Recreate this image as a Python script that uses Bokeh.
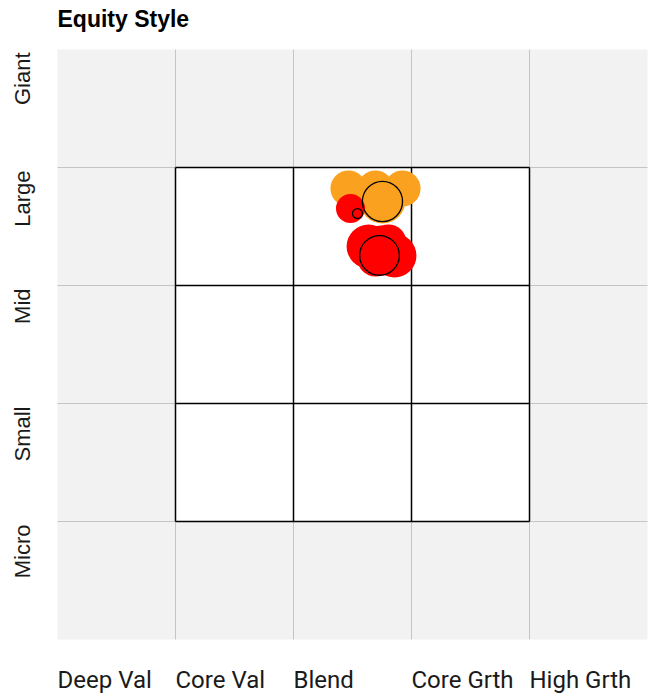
import numpy as np
from bokeh.plotting import figure
from bokeh.models import Range1d
from bokeh.core.properties import value
from bokeh.embed import file_html
from bokeh.resources import INLINE

# ---- data ----
style_labels = ["Deep Val", "Core Val", "Blend", "Core Grth", "High Grth"]
size_labels = ["Giant", "Large", "Mid", "Small", "Micro"]  # top to bottom
title_text = "Equity Style"

# ownership-zone blobs (style score, size score, radius) in grid units
orange_x = [2.466, 2.924, 2.695, 2.754]
orange_y = [3.822, 3.822, 3.822, 3.720]
orange_r = [0.153, 0.153, 0.153, 0.195]

red_small_x = [2.483]
red_small_y = [3.653]
red_small_r = [0.123]

red_x = [2.636, 2.856, 2.746, 2.695, 2.805]
red_y = [3.331, 3.254, 3.297, 3.229, 3.364]
red_r = [0.186, 0.186, 0.212, 0.153, 0.153]

# centroids (outlined circles)
cent_x = [2.754, 2.542, 2.729]
cent_y = [3.712, 3.610, 3.255]
cent_r = [0.170, 0.042, 0.168]

n = len(style_labels)
U = 118.0  # pixels per grid cell
W, H = 649, 696
L0, B0 = 57, 639  # pixel position of grid origin

p = figure(width=W, height=H, output_backend="svg", toolbar_location=None,
           x_range=Range1d(-L0 / U, (W - L0) / U), y_range=Range1d((B0 - H) / U, B0 / U),
           x_axis_type=None, y_axis_type=None,
           min_border=0)
p.background_fill_color = "white"
p.border_fill_color = "white"
p.outline_line_color = None
p.xgrid.visible = False
p.ygrid.visible = False

# grey outer area
p.quad(left=[0], right=[n], bottom=[0], top=[n], fill_color="#f2f2f2", line_color=None)
idx = np.arange(1, n)
p.segment(x0=idx, y0=0, x1=idx, y1=n, line_color="#c4c4c4", line_width=1)
p.segment(x0=0, y0=idx, x1=n, y1=idx, line_color="#c4c4c4", line_width=1)

# inner 3x3 white box with black grid
p.quad(left=[1], right=[n - 1], bottom=[1], top=[n - 1], fill_color="white", line_color=None)
p.segment(x0=idx, y0=1, x1=idx, y1=n - 1, line_color="black", line_width=1.5)
p.segment(x0=1, y0=idx, x1=n - 1, y1=idx, line_color="black", line_width=1.5)

orange = "#FAA21F"
red = "#FF0000"
p.circle(x=orange_x, y=orange_y, radius=orange_r, fill_color=orange, line_color=None)
p.circle(x=red_small_x, y=red_small_y, radius=red_small_r, fill_color=red, line_color=None)
p.circle(x=red_x, y=red_y, radius=red_r, fill_color=red, line_color=None)
p.circle(x=cent_x, y=cent_y, radius=cent_r, fill_color=None, line_color="black", line_width=1.3)

# texts
p.text(x=[0], y=[(B0 - 18) / U], text=[title_text], text_font=value("Liberation Sans"),
       text_font_style="bold", text_font_size="23px", text_color="black",
       text_baseline="alphabetic", text_align="left")
p.text(x=list(range(n)), y=[(B0 - 679) / U] * n, text=style_labels,
       text_font=value("Roboto"), text_font_size="24px", text_color="#1a1a1a",
       text_baseline="alphabetic", text_align="left")
p.text(x=[(22 - L0) / U] * n, y=[n - i - 3 / U for i in range(n)], text=size_labels,
       text_font=value("Liberation Sans"), text_font_size="22px", text_color="#1a1a1a",
       angle=np.pi / 2, text_baseline="alphabetic", text_align="right")

open("out.html", "w").write(file_html(p, INLINE))
